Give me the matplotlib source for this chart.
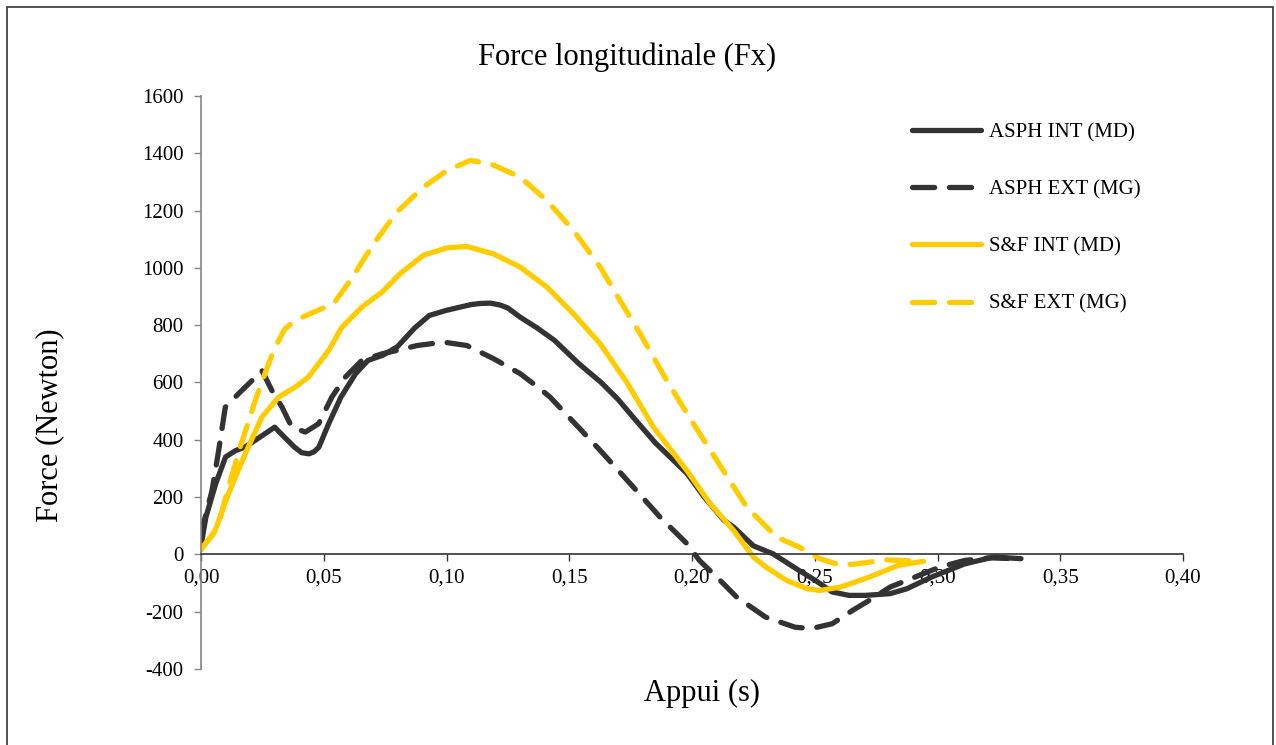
import matplotlib
matplotlib.use('Agg')
import matplotlib.pyplot as plt
from matplotlib.ticker import FuncFormatter, MultipleLocator
from matplotlib.patches import Rectangle

plt.rcParams['font.family'] = ['Liberation Serif', 'DejaVu Serif']

# ASPH INT (MD) - solid dark
x_asph_int = [0, .002, .006, .010, .014, .018, .025, .030, .034, .038, .041, .044, .046, .048, .052,
              .057, .063, .068, .074, .080, .087, .093, .100, .105, .110, .114, .118, .122, .125,
              .130, .137, .144, .154, .163, .170, .176, .185, .198, .205, .213, .217, .225, .233,
              .2436, .2503, .2571, .2639, .2707, .2807, .2875, .2976, .3111, .323, .334]
y_asph_int = [30, 130, 247, 340, 362, 375, 415, 444, 409, 375, 355, 351, 358, 374, 456,
              549, 631, 677, 695, 725, 790, 834, 852, 862, 872, 876, 877, 870, 860,
              828, 790, 747, 665, 600, 540, 479, 390, 282, 200, 119, 95, 30, 2,
              -56, -91, -131, -143, -143, -137, -120, -79, -33, -9, -15]

# ASPH EXT (MG) - dashed dark
x_asph_ext = [0, .001, .0045, .0072, .0099, .0153, .0208, .0248, .0289, .033, .037, .0425, .0479,
              .0533, .0588, .0655, .0737, .0798, .088, .0988, .1083, .1192, .13, .1381, .1422,
              .150, .1626, .1761, .187, .198, .203, .2115, .2182, .23, .2419, .2486, .2571,
              .2655, .2723, .2807, .2909, .301, .3111, .3213, .3314]
y_asph_ext = [60, 107, 223, 363, 514, 561, 607, 642, 572, 514, 444, 427, 456,
              549, 619, 677, 700, 712, 729, 741, 729, 683, 631, 578, 549,
              478, 363, 235, 130, 37, -21, -91, -149, -219, -254, -259, -242,
              -195, -160, -114, -79, -44, -21, -12, -15]

# S&F INT (MD) - solid yellow
x_sf_int = [0, .0058, .0112, .018, .0248, .0316, .0384, .0438, .052, .0574, .0655, .0737, .0811,
            .0906, .1002, .1083, .1191, .13, .1409, .1517, .1626, .1735, .1843, .1979, .2074,
            .2169, .225, .2301, .2385, .247, .252, .2605, .2723, .2841, .2943]
y_sf_int = [15, 84, 212, 351, 479, 549, 584, 619, 712, 793, 863, 915, 980,
            1044, 1070, 1075, 1049, 1003, 933, 840, 735, 600, 444, 293, 177,
            84, -9, -44, -91, -120, -126, -114, -79, -38, -24]

# S&F EXT (MG) - dashed yellow
x_sf_ext = [0, .005, .0079, .0112, .016, .0221, .026, .030, .034, .038, .046, .054, .0608, .0703,
            .0798, .0906, .1002, .1097, .1178, .13, .1409, .1517, .1626, .1707, .1789, .1897,
            .2006, .2101, .2223, .2345, .2436, .252, .2605, .2672, .279, .2943]
y_sf_ext = [20, 70, 130, 235, 375, 537, 630, 720, 785, 815, 846, 875, 956, 1084,
            1195, 1282, 1340, 1375, 1364, 1317, 1235, 1131, 1003, 886, 770, 607,
            456, 328, 165, 60, 26, -15, -38, -33, -19, -24]

labels = ['ASPH INT (MD)', 'ASPH EXT (MG)', 'S&F INT (MD)', 'S&F EXT (MG)']

dark = '#333333'
yellow = '#FFCC00'

fig = plt.figure(figsize=(12.76, 7.45), dpi=100)
ax = fig.add_axes([201 / 1276, 1 - 669 / 745, (1183 - 201) / 1276, (669 - 96) / 745])

lw = 3.8
dash = (4.2, 2.8)
ax.plot(x_asph_int, y_asph_int, color=dark, lw=lw, solid_capstyle='round', solid_joinstyle='round', label=labels[0])
ax.plot(x_asph_ext, y_asph_ext, color=dark, lw=lw, dashes=dash, dash_capstyle='round', dash_joinstyle='round', label=labels[1])
ax.plot(x_sf_int, y_sf_int, color=yellow, lw=lw, solid_capstyle='round', solid_joinstyle='round', label=labels[2])
ax.plot(x_sf_ext, y_sf_ext, color=yellow, lw=lw, dashes=dash, dash_capstyle='round', dash_joinstyle='round', label=labels[3])

ax.set_xlim(0, 0.40)
ax.set_ylim(-400, 1600)
ax.xaxis.set_major_locator(MultipleLocator(0.05))
ax.yaxis.set_major_locator(MultipleLocator(200))
ax.xaxis.set_major_formatter(FuncFormatter(lambda v, p: f'{v:.2f}'.replace('.', ',')))
ax.yaxis.set_major_formatter(FuncFormatter(lambda v, p: f'{v:.0f}'))

ax.spines['top'].set_visible(False)
ax.spines['right'].set_visible(False)
ax.spines['bottom'].set_position(('data', 0))
ax.spines['bottom'].set_color(dark)
ax.spines['left'].set_color('#868686')
ax.spines['bottom'].set_linewidth(1.2)
ax.spines['left'].set_linewidth(1.2)

ax.tick_params(axis='x', direction='out', length=5, width=1.0, color=dark, pad=5, labelsize=15)
ax.tick_params(axis='y', direction='out', length=5, width=1.0, color='#868686', pad=7.5, labelsize=15)

fig.text(627 / 1276, 1 - 57 / 745, 'Force longitudinale (Fx)', ha='center', va='center', fontsize=22)
fig.text(702 / 1276, 1 - 693 / 745, 'Appui (s)', ha='center', va='center', fontsize=22)
fig.text(50 / 1276, 1 - 425 / 745, 'Force (Newton)', ha='center', va='center', rotation=90, fontsize=22)

ax.legend(loc='upper left', bbox_to_anchor=(912 / 1276, 1 - 123 / 745), bbox_transform=fig.transFigure,
          frameon=False, fontsize=15, handlelength=3.3, handletextpad=0.4, labelspacing=1.8,
          borderpad=0, borderaxespad=0)

fig.add_artist(Rectangle((7 / 1276, -0.01), (1273 - 7) / 1276, 1 - 7 / 745 + 0.01,
                         transform=fig.transFigure, fill=False, ec=dark, lw=1.2))

fig.savefig('out.png', dpi=100)
